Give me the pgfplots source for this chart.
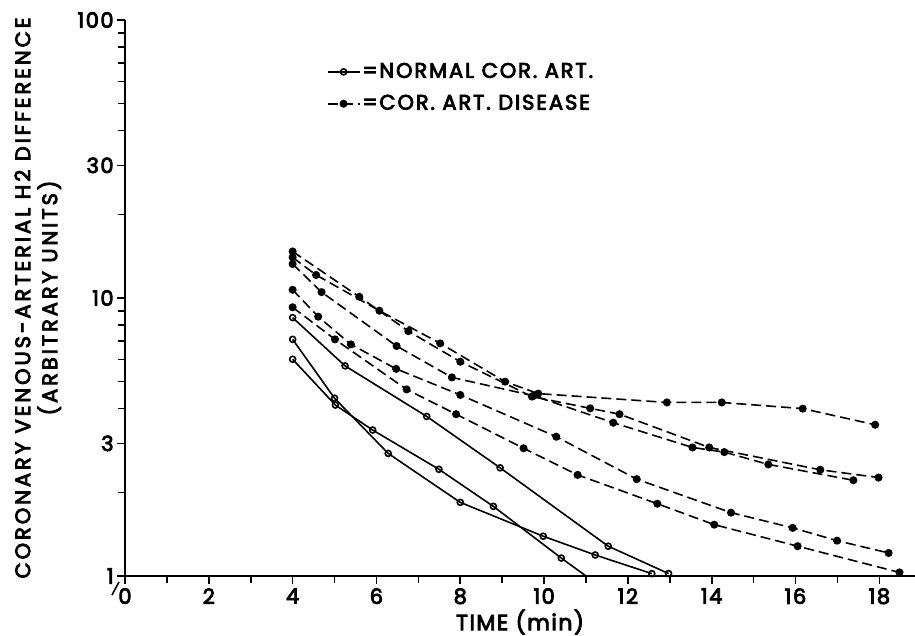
\documentclass[border=0pt]{standalone}
\usepackage{fontspec}
\setmainfont{Poppins}
\newfontfamily\labfont[LetterSpace=7, FakeBold=4]{Poppins}
\newfontfamily\yfont[LetterSpace=14, FakeBold=4]{Poppins}
\newfontfamily\legfont[LetterSpace=9, FakeBold=4]{Poppins}
\usepackage{pgfplots}
\pgfplotsset{compat=1.18}
\begin{document}
\begin{tikzpicture}
\begin{axis}[
  scale only axis, width=395pt, height=278pt,
  xmin=0, xmax=18.85, ymin=1, ymax=100,
  ymode=log,
  axis x line=bottom, axis y line=left,
  axis line style={line width=1.3pt, -},
  xtick={0,2,...,18}, minor xtick={1,3,...,17},
  ytick={1,3,10,30,100}, yticklabels={1,3,10,30,100},
  minor ytick={2,4,5,6,7,8,9,20,40,50,60,70,80,90},
  tick align=outside,
  major tick length=4pt, minor tick length=3.5pt,
  tick style={line width=0.8pt, black},
  /pgf/number format/assume math mode=true,
  ticklabel style={font=\labfont\fontsize{10.5}{12}\selectfont},
  yticklabel style={inner sep=1.5pt},
  xticklabel style={inner sep=2pt},
  xlabel={TIME (min)},
  xlabel style={at={(axis description cs:0.5,0)}, anchor=center, yshift=-23pt, font=\labfont\fontsize{11}{13}\selectfont},
  ylabel={CORONARY VENOUS-ARTERIAL H2 DIFFERENCE\\(ARBITRARY UNITS)},
  ylabel style={at={(axis description cs:-0.072,0.5)}, anchor=south, align=center, font=\yfont\fontsize{10.5}{13.5}\selectfont},
  legend style={at={(axis description cs:0.255,0.927)}, anchor=north west, draw=none, fill=none,
    font=\legfont\fontsize{10.5}{12}\selectfont, row sep=5pt, inner sep=0pt,
    nodes={inner sep=1pt}},
  legend cell align=left,
  legend image code/.code={
    \draw[mark repeat=2,mark phase=2] plot coordinates {(0cm,0cm) (0.28cm,0cm) (0.56cm,0cm)};},
  clip=false,
]
% normal coronary arteries (open circles, solid)
\addplot[black, line width=0.8pt, mark=o, mark size=1.5pt, mark options={solid, fill=white, line width=0.8pt}]
 coordinates {(4,8.5)(5.25,5.7)(7.2,3.75)(8.95,2.45)(11.53,1.28)(12.97,1.02)};
\addlegendentry{=NORMAL COR. ART.}
% coronary artery disease (filled circles, dashed)
\addplot[black, line width=0.8pt, dash pattern=on 5pt off 2.5pt, mark=*, mark size=1.6pt, mark options={solid}]
 coordinates {(4,14.7)(5.59,10.1)(6.76,7.6)(8.0,5.9)(9.71,4.42)(11.1,4.01)(11.8,3.82)(13.94,2.9)(16.59,2.41)(17.98,2.26)};
\addlegendentry{=COR. ART. DISEASE}

\addplot[forget plot, black, line width=0.8pt, mark=o, mark size=1.5pt, mark options={solid, fill=white, line width=0.8pt}]
 coordinates {(4,7.1)(5.0,4.36)(6.28,2.76)(8.0,1.84)(9.98,1.39)(11.22,1.19)(12.57,1.02)};
\addplot[forget plot, black, line width=0.8pt, mark=o, mark size=1.5pt, mark options={solid, fill=white, line width=0.8pt}]
 coordinates {(4,6.02)(5.02,4.12)(5.91,3.35)(7.49,2.42)(8.79,1.78)(10.41,1.16)};
\addplot[forget plot, black, line width=0.8pt]
 coordinates {(10.41,1.16)(11.0,1.0)};

\addplot[forget plot, black, line width=0.8pt, dash pattern=on 5pt off 2.5pt, mark=*, mark size=1.6pt, mark options={solid}]
 coordinates {(4,14.0)(4.56,12.1)(6.07,9.0)(7.52,6.87)(9.07,5.0)(9.86,4.53)(12.93,4.21)(14.24,4.21)(16.17,4.0)(17.9,3.5)};
\addplot[forget plot, black, line width=0.8pt, dash pattern=on 5pt off 2.5pt, mark=*, mark size=1.6pt, mark options={solid}]
 coordinates {(4,13.25)(4.69,10.5)(6.48,6.72)(7.8,5.18)(9.75,4.45)(11.65,3.56)(13.54,2.9)(14.3,2.79)(15.35,2.52)(17.38,2.21)};
\addplot[forget plot, black, line width=0.8pt, dash pattern=on 5pt off 2.5pt, mark=*, mark size=1.6pt, mark options={solid}]
 coordinates {(4,10.7)(4.61,8.57)(5.39,6.81)(6.47,5.56)(8.0,4.48)(10.29,3.17)(12.21,2.23)(14.46,1.69)(15.93,1.49)(16.99,1.34)(18.22,1.21)};
\addplot[forget plot, black, line width=0.8pt, dash pattern=on 5pt off 2.5pt, mark=*, mark size=1.6pt, mark options={solid}]
 coordinates {(4,9.26)(5.01,7.1)(6.72,4.69)(7.9,3.82)(9.51,2.88)(10.8,2.31)(12.7,1.82)(14.06,1.53)(16.05,1.28)(18.48,1.03)};
\end{axis}
\draw[line width=0.8pt] (-6.5pt,-9.5pt) -- (-3pt,-3pt);
\pgfresetboundingbox
\path (-62.5pt,-30pt) rectangle (395pt,288pt);
\end{tikzpicture}
\end{document}
